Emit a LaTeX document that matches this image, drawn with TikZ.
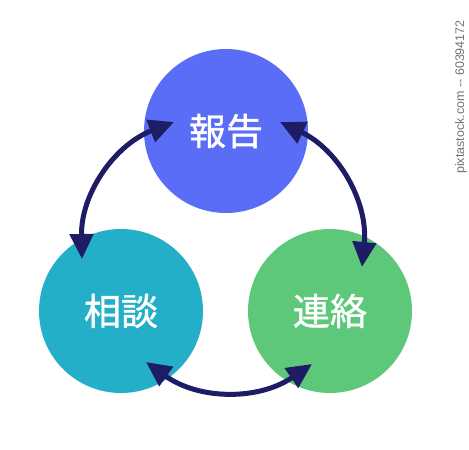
\documentclass[tikz,border=0pt]{standalone}
\usepackage{fontspec}
\newfontfamily\jpfont[FakeBold=1.2]{Noto Sans CJK JP}
\newfontfamily\markfont{Liberation Sans}
\usepackage{xcolor}
\definecolor{reportblue}{HTML}{5A6DF6}
\definecolor{consultteal}{HTML}{24AFC8}
\definecolor{contactgreen}{HTML}{5EC87A}
\definecolor{cyclenavy}{HTML}{1E1C64}
\usepackage{tikz}
\usetikzlibrary{arrows.meta}

\begin{document}
\begin{tikzpicture}[x=1pt, y=-1pt,
    bubble/.style={circle, minimum size=164pt, inner sep=0pt, text=white,
      font=\jpfont\fontsize{37}{37}\selectfont},
    cycle/.style={draw=cyclenavy, line width=5pt,
      {Triangle[length=25pt, width=23pt]}-{Triangle[length=25pt, width=23pt]}}
]
  \useasboundingbox (0,0) rectangle (469,450);

  % Die drei Kreise
  \node[bubble, fill=reportblue] (hokoku) at (226,131) {報告};
  \node[bubble, fill=consultteal] (sodan) at (121,311) {相談};
  \node[bubble, fill=contactgreen] (renraku) at (330,311) {連絡};

  % Endpunkte der Pfeile
  \coordinate (hl) at (174,122);
  \coordinate (hr) at (280,122);
  \coordinate (st) at (82,259);
  \coordinate (sb) at (146,362);
  \coordinate (rt) at (362,267);
  \coordinate (rb) at (312,364);

  % Pfeile zwischen den Kreisen
  \draw[cycle] (hl) to[bend right=35] (st);
  \draw[cycle] (hr) to[bend left=35] (rt);
  \draw[cycle] (sb) to[bend right=35] (rb);

  % Kennung am Rand
  \node[rotate=90, text=black!55, font=\markfont\fontsize{12.5}{12.5}\selectfont]
    (mark) at (461,97) {pixtastock.com -- 60394172};

\end{tikzpicture}
\end{document}
